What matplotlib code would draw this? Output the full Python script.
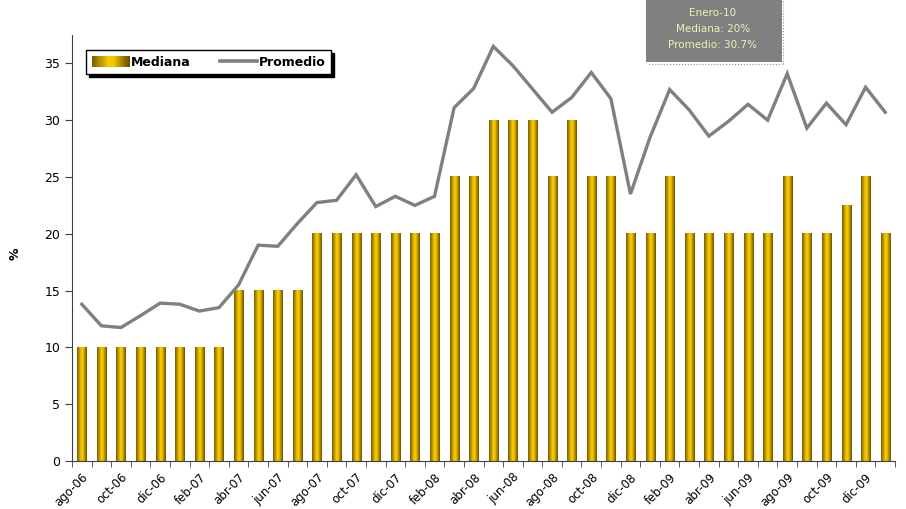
import numpy as np
import matplotlib
matplotlib.use("Agg")
import matplotlib.pyplot as plt
import matplotlib.transforms as mtransforms
from matplotlib.colors import LinearSegmentedColormap
from matplotlib.legend_handler import HandlerBase
from matplotlib.patches import Rectangle, Patch
from matplotlib.lines import Line2D

# data, monthly ago-06 .. ene-10
meses = ["ago-06", "sep-06", "oct-06", "nov-06", "dic-06", "ene-07", "feb-07", "mar-07",
         "abr-07", "may-07", "jun-07", "jul-07", "ago-07", "sep-07", "oct-07", "nov-07",
         "dic-07", "ene-08", "feb-08", "mar-08", "abr-08", "may-08", "jun-08", "jul-08",
         "ago-08", "sep-08", "oct-08", "nov-08", "dic-08", "ene-09", "feb-09", "mar-09",
         "abr-09", "may-09", "jun-09", "jul-09", "ago-09", "sep-09", "oct-09", "nov-09",
         "dic-09", "ene-10"]
mediana = [10, 10, 10, 10, 10, 10, 10, 10,
           15, 15, 15, 15,
           20, 20, 20, 20, 20, 20, 20,
           25, 25, 30, 30, 30, 25, 30, 25, 25,
           20, 20, 25, 20, 20, 20, 20, 20, 25, 20, 20, 22.5, 25, 20]
promedio = [13.8, 11.9, 11.75, 12.8, 13.9, 13.8, 13.2, 13.5,
            15.5, 19.0, 18.9, 20.9, 22.75, 22.95, 25.2, 22.4, 23.3, 22.5, 23.3,
            31.1, 32.8, 36.5, 34.8, 32.75, 30.7, 32.0, 34.2, 31.9, 23.5, 28.5,
            32.7, 30.9, 28.6, 29.9, 31.4, 30.0, 34.1, 29.3, 31.5, 29.6, 32.9, 30.7]

gold = LinearSegmentedColormap.from_list(
    "gold", [(0.0, "#7a5c00"), (0.45, "#f8cc00"), (0.6, "#f0c400"), (1.0, "#6e5200")])


class GradHandler(HandlerBase):
    # legend patch drawn as thin stripes to mimic the gradient fill
    def create_artists(self, legend, orig_handle, xdescent, ydescent,
                       width, height, fontsize, trans):
        n = 24
        arts = []
        for i in range(n):
            r = Rectangle((-xdescent + i * width / n, -ydescent), width / n + 0.3, height,
                          facecolor=gold(i / (n - 1)), edgecolor="none", transform=trans)
            arts.append(r)
        return arts


fig = plt.figure(figsize=(9.06, 5.09), dpi=100)
ax = fig.add_axes([72 / 906, 1 - 461 / 509, (895 - 72) / 906, (461 - 35) / 509])

x = np.arange(len(meses))
bars = ax.bar(x, mediana, width=0.46, color="none", edgecolor="none")
grad = np.linspace(0, 1, 64).reshape(1, -1)
for b in bars:
    ax.imshow(grad, cmap=gold, aspect="auto", interpolation="bilinear", zorder=2,
              extent=[b.get_x(), b.get_x() + b.get_width(), 0, b.get_height()])

ax.plot(x, promedio, color="#808080", lw=2.4, zorder=3, solid_joinstyle="miter")

ax.set_xlim(-0.5, len(meses) - 0.5)
ax.set_ylim(0, 37.5)
ax.set_yticks(np.arange(0, 36, 5))
ax.set_xticks(x[::2])
ax.set_xticklabels(meses[::2], rotation=45, ha="right", rotation_mode="anchor", fontsize=8.5)
shift = mtransforms.ScaledTranslation(-6 / 100, 0, fig.dpi_scale_trans)
for lab in ax.get_xticklabels():
    lab.set_transform(lab.get_transform() + shift)
ax.set_xticks(np.arange(-0.5, len(meses), 1), minor=True)
ax.tick_params(axis="x", which="major", length=0, pad=7)
ax.tick_params(axis="x", which="minor", length=4, direction="out", color="#404040")
ax.tick_params(axis="y", length=5, direction="out", color="#404040", labelsize=9)
for s in ["top", "right"]:
    ax.spines[s].set_visible(False)
for s in ["left", "bottom"]:
    ax.spines[s].set_color("#404040")
fig.text(15 / 906, 1 - 254 / 509, "%", rotation=90, ha="center", va="center",
         fontsize=9, fontweight="bold")

handles = [Patch(label="Mediana"),
           Line2D([], [], color="#808080", lw=2.6, label="Promedio")]
leg = fig.legend(handles=handles, handler_map={Patch: GradHandler()},
                 loc="upper left", bbox_to_anchor=(86 / 906, 1 - 50 / 509), ncol=2,
                 fancybox=False, shadow={"color": "black", "alpha": 1},
                 edgecolor="black", framealpha=1, borderaxespad=0, handlelength=3.0,
                 handleheight=0.9, handletextpad=0.15, columnspacing=2.3, borderpad=0.45,
                 prop={"size": 9, "weight": "bold"})
leg.get_frame().set_linewidth(1)

# info box
fig.patches.append(Rectangle((646 / 906, 1 - 62 / 509), 136 / 906, 62 / 509,
                             transform=fig.transFigure, facecolor="#808080",
                             edgecolor="none", zorder=5))
fig.lines.append(Line2D([649 / 906, 782 / 906], [1 - 64 / 509, 1 - 64 / 509],
                        transform=fig.transFigure, color="#909090", lw=0.8, ls=":"))
fig.lines.append(Line2D([783 / 906, 783 / 906], [1 - 64 / 509, 1.0],
                        transform=fig.transFigure, color="#909090", lw=0.8, ls=":"))
for i, t in enumerate(["Enero-10", "Mediana: 20%", "Promedio: 30.7%"]):
    fig.text(713 / 906, 1 - (13 + 16 * i) / 509, t, ha="center", va="center",
             fontsize=7.5, color="#f0f0b8", zorder=6)

fig.savefig("out.png", dpi=100)
